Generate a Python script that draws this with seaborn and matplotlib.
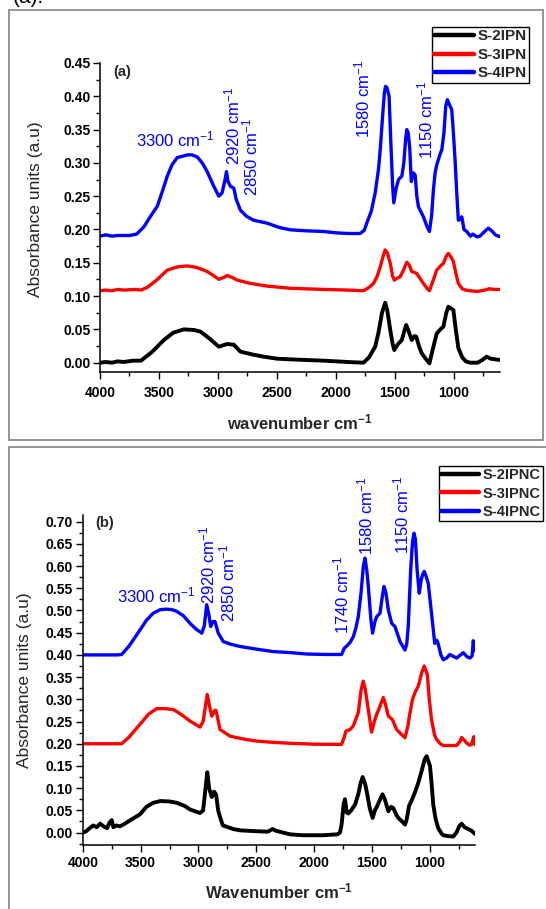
import matplotlib
matplotlib.use("Agg")
import matplotlib.pyplot as plt
import seaborn as sns
import pandas as pd
from matplotlib.patches import Rectangle
from matplotlib.ticker import MultipleLocator

# ---------------- (a) IPN spectra ----------------
a_s2_wn = [4000, 3950, 3900, 3850, 3800, 3720, 3653, 3560, 3459, 3380, 3289, 3200, 3148, 3070,
           2993, 2960, 2922, 2866, 2840, 2810, 2700, 2612, 2500, 2387, 2250, 2105, 2000, 1900,
           1766, 1720, 1668, 1640, 1610, 1583, 1565, 1540, 1520, 1506, 1475, 1442, 1420, 1405,
           1390, 1358, 1335, 1320, 1295, 1273, 1240, 1208, 1180, 1146, 1110, 1090, 1065, 1048,
           1030, 1005, 985, 963, 930, 900, 864, 800, 760, 723, 690, 650, 610]
a_s2_abs = [0.000, 0.001, 0.000, 0.002, 0.001, 0.003, 0.003, 0.016, 0.034, 0.045, 0.050, 0.049,
            0.0466, 0.036, 0.024, 0.026, 0.028, 0.027, 0.022, 0.0166, 0.012, 0.009, 0.006, 0.005,
            0.004, 0.003, 0.002, 0.001, 0.000, 0.008, 0.024, 0.045, 0.075, 0.090, 0.078, 0.049,
            0.028, 0.019, 0.028, 0.034, 0.048, 0.0566, 0.050, 0.034, 0.040, 0.039, 0.024, 0.014,
            0.006, -0.001, 0.020, 0.044, 0.051, 0.054, 0.075, 0.084, 0.082, 0.079, 0.050, 0.022,
            0.008, 0.002, 0.000, 0.000, 0.004, 0.009, 0.006, 0.005, 0.004]

a_s3_wn = [4000, 3950, 3900, 3850, 3800, 3700, 3653, 3600, 3520, 3430, 3340, 3261, 3180, 3092,
           3040, 2993, 2950, 2922, 2880, 2837, 2725, 2584, 2387, 2105, 1900, 1766, 1720, 1682,
           1650, 1625, 1600, 1583, 1565, 1540, 1520, 1506, 1480, 1456, 1425, 1400, 1380, 1358,
           1315, 1290, 1259, 1230, 1208, 1180, 1146, 1110, 1090, 1065, 1048, 1030, 1005, 985,
           963, 930, 900, 864, 800, 740, 700, 660, 610]
a_s3_abs = [0.108, 0.109, 0.108, 0.110, 0.109, 0.110, 0.109, 0.113, 0.124, 0.139, 0.144, 0.1453,
            0.143, 0.137, 0.131, 0.1252, 0.128, 0.131, 0.128, 0.124, 0.119, 0.115, 0.1117, 0.110,
            0.109, 0.108, 0.113, 0.119, 0.130, 0.144, 0.160, 0.1693, 0.165, 0.149, 0.130, 0.124,
            0.127, 0.129, 0.140, 0.1508, 0.147, 0.137, 0.134, 0.127, 0.119, 0.112, 0.108, 0.122,
            0.139, 0.146, 0.149, 0.160, 0.164, 0.160, 0.152, 0.135, 0.119, 0.111, 0.109, 0.108,
            0.107, 0.109, 0.111, 0.110, 0.110]

a_s4_wn = [4000, 3950, 3900, 3850, 3750, 3690, 3628, 3571, 3514, 3470, 3430, 3390, 3345, 3300,
           3261, 3220, 3176, 3130, 3092, 3036, 2993, 2965, 2940, 2928, 2915, 2895, 2866, 2845,
           2810, 2760, 2700, 2584, 2480, 2387, 2250, 2105, 2000, 1900, 1794, 1760, 1738, 1700,
           1668, 1640, 1625, 1605, 1590, 1580, 1568, 1550, 1535, 1520, 1510, 1490, 1470, 1442,
           1425, 1410, 1400, 1388, 1375, 1362, 1345, 1329, 1315, 1301, 1259, 1230, 1208, 1190,
           1174, 1160, 1146, 1120, 1103, 1085, 1070, 1056, 1040, 1019, 1005, 991, 975, 963, 948,
           934, 915, 892, 860, 840, 807, 780, 740, 709, 680, 650, 610]
a_s4_abs = [0.190, 0.192, 0.190, 0.191, 0.191, 0.193, 0.204, 0.220, 0.235, 0.258, 0.280, 0.297,
            0.308, 0.310, 0.312, 0.312, 0.309, 0.299, 0.287, 0.265, 0.250, 0.255, 0.275, 0.287,
            0.272, 0.265, 0.262, 0.245, 0.229, 0.220, 0.214, 0.2095, 0.203, 0.1995, 0.198, 0.197,
            0.195, 0.194, 0.194, 0.199, 0.210, 0.228, 0.255, 0.290, 0.320, 0.370, 0.405, 0.415,
            0.413, 0.400, 0.330, 0.265, 0.240, 0.262, 0.275, 0.280, 0.300, 0.335, 0.350, 0.345,
            0.322, 0.272, 0.285, 0.282, 0.250, 0.234, 0.219, 0.205, 0.197, 0.220, 0.260, 0.285,
            0.297, 0.312, 0.320, 0.345, 0.385, 0.395, 0.388, 0.380, 0.345, 0.305, 0.250, 0.214,
            0.215, 0.219, 0.200, 0.197, 0.190, 0.193, 0.189, 0.190, 0.197, 0.202, 0.198, 0.192,
            0.189]

# ---------------- (b) IPNC spectra ----------------
b_s2_wn = [4000, 3970, 3940, 3910, 3880, 3850, 3820, 3790, 3770, 3750, 3736, 3710, 3680, 3650,
           3600, 3506, 3450, 3391, 3330, 3250, 3188, 3120, 3073, 2987, 2960, 2935, 2924, 2908,
           2885, 2865, 2848, 2830, 2814, 2789, 2700, 2641, 2500, 2400, 2360, 2330, 2209, 2100,
           1921, 1800, 1777, 1763, 1745, 1734, 1718, 1705, 1680, 1647, 1619, 1600, 1581, 1560,
           1541, 1520, 1495, 1475, 1455, 1430, 1409, 1390, 1359, 1335, 1316, 1290, 1273, 1240,
           1215, 1200, 1180, 1158, 1130, 1100, 1070, 1045, 1028, 1015, 999, 985, 971, 950, 928,
           900, 885, 840, 799, 770, 745, 726, 700, 670, 640, 610]
b_s2_abs = [0.000, 0.003, 0.010, 0.016, 0.012, 0.020, 0.014, 0.010, 0.022, 0.028, 0.012, 0.016,
            0.014, 0.018, 0.026, 0.041, 0.058, 0.067, 0.071, 0.070, 0.067, 0.060, 0.052, 0.044,
            0.050, 0.110, 0.136, 0.100, 0.080, 0.092, 0.086, 0.050, 0.035, 0.016, 0.008, 0.005,
            0.003, 0.002, 0.008, 0.004, -0.004, -0.006, -0.006, -0.004, 0.000, 0.018, 0.065,
            0.075, 0.045, 0.043, 0.050, 0.063, 0.086, 0.110, 0.125, 0.110, 0.086, 0.055, 0.033,
            0.050, 0.060, 0.075, 0.086, 0.075, 0.048, 0.058, 0.055, 0.040, 0.033, 0.025, 0.018,
            0.030, 0.060, 0.072, 0.090, 0.112, 0.140, 0.165, 0.172, 0.162, 0.150, 0.110, 0.063,
            0.030, 0.010, -0.002, -0.006, -0.008, -0.009, 0.000, 0.015, 0.020, 0.012, 0.008,
            0.004, -0.003]

b_s3_wn = [4000, 3800, 3664, 3600, 3506, 3430, 3361, 3290, 3217, 3150, 3073, 2987, 2960, 2924,
           2905, 2885, 2860, 2848, 2814, 2727, 2600, 2497, 2350, 2209, 2000, 1763, 1740, 1725,
           1690, 1662, 1619, 1595, 1576, 1560, 1541, 1504, 1480, 1466, 1430, 1403, 1385, 1359,
           1325, 1287, 1250, 1215, 1190, 1172, 1150, 1129, 1100, 1070, 1049, 1022, 1005, 986,
           960, 943, 910, 885, 830, 769, 740, 726, 700, 683, 660, 640, 625, 619, 610]
b_s3_abs = [0.200, 0.200, 0.200, 0.215, 0.2435, 0.267, 0.279, 0.279, 0.277, 0.266, 0.251, 0.2375,
            0.250, 0.311, 0.285, 0.262, 0.275, 0.275, 0.232, 0.217, 0.210, 0.206, 0.203, 0.201,
            0.199, 0.1985, 0.215, 0.2285, 0.232, 0.240, 0.270, 0.320, 0.341, 0.325, 0.292, 0.226,
            0.250, 0.262, 0.285, 0.304, 0.290, 0.262, 0.255, 0.232, 0.222, 0.2135, 0.240, 0.270,
            0.300, 0.315, 0.330, 0.360, 0.375, 0.356, 0.300, 0.255, 0.220, 0.210, 0.200, 0.196,
            0.196, 0.196, 0.205, 0.214, 0.207, 0.202, 0.197, 0.198, 0.212, 0.216, 0.198]

b_s4_wn = [4000, 3900, 3800, 3700, 3664, 3600, 3506, 3450, 3391, 3330, 3275, 3230, 3188, 3130,
           3073, 3020, 2972, 2950, 2929, 2910, 2895, 2875, 2857, 2829, 2786, 2720, 2641, 2500,
           2354, 2200, 2065, 1900, 1763, 1740, 1719, 1690, 1662, 1640, 1619, 1595, 1575, 1561,
           1545, 1532, 1510, 1495, 1475, 1460, 1431, 1412, 1397, 1380, 1359, 1330, 1302, 1258,
           1215, 1200, 1187, 1166, 1150, 1137, 1125, 1110, 1092, 1075, 1060, 1049, 1030, 1014,
           986, 958, 940, 929, 905, 884, 855, 827, 800, 769, 740, 711, 680, 653, 635, 625, 617,
           610]
b_s4_abs = [0.400, 0.400, 0.400, 0.400, 0.401, 0.420, 0.456, 0.478, 0.494, 0.502, 0.503, 0.502,
            0.498, 0.488, 0.471, 0.458, 0.449, 0.465, 0.513, 0.490, 0.464, 0.475, 0.475, 0.449,
            0.430, 0.424, 0.419, 0.413, 0.4075, 0.405, 0.402, 0.401, 0.401, 0.415, 0.420, 0.428,
            0.441, 0.460, 0.486, 0.540, 0.600, 0.618, 0.590, 0.554, 0.480, 0.449, 0.475, 0.486,
            0.494, 0.530, 0.554, 0.540, 0.501, 0.471, 0.464, 0.430, 0.411, 0.425, 0.464, 0.591,
            0.655, 0.674, 0.660, 0.590, 0.539, 0.569, 0.583, 0.588, 0.575, 0.561, 0.494, 0.426,
            0.433, 0.426, 0.400, 0.389, 0.393, 0.401, 0.397, 0.393, 0.399, 0.405, 0.396, 0.393,
            0.398, 0.432, 0.420, 0.409]

names_a = ["S-2IPN", "S-3IPN", "S-4IPN"]
names_b = ["S-2IPNC", "S-3IPNC", "S-4IPNC"]
colors = ["black", "red", "blue"]

x_ticks = [4000, 3500, 3000, 2500, 2000, 1500, 1000]
x_tick_labels = ["4000", "3500", "3000", "2500", "2000", "1500", "1000"]
ya_ticks = [0.00, 0.05, 0.10, 0.15, 0.20, 0.25, 0.30, 0.35, 0.40, 0.45]
yb_ticks = [0.00, 0.05, 0.10, 0.15, 0.20, 0.25, 0.30, 0.35, 0.40, 0.45, 0.50, 0.55, 0.60,
            0.65, 0.70]

peaks_a = ["3300", "2920", "2850", "1580", "1150"]
peaks_b = ["3300", "2920", "2850", "1740", "1580", "1150"]

# ---------------- figure ----------------
sns.set_theme(style="ticks")
plt.rcParams["font.family"] = ["Liberation Sans", "DejaVu Sans"]
plt.rcParams["mathtext.fontset"] = "custom"
plt.rcParams["mathtext.rm"] = "Liberation Sans"
plt.rcParams["mathtext.it"] = "Liberation Sans:italic"
plt.rcParams["mathtext.bf"] = "Liberation Sans:bold"
plt.rcParams["axes.edgecolor"] = "black"
plt.rcParams["xtick.color"] = "black"
plt.rcParams["ytick.color"] = "black"

W, H = 546, 909
fig = plt.figure(figsize=(W / 100, H / 100), dpi=100)


def px_rect(x0, y0, x1, y1):
    """Pixel box (top-left origin) -> figure-fraction rect."""
    return [x0 / W, 1 - y1 / H, (x1 - x0) / W, (y1 - y0) / H]


# grey panel frames
fig.add_artist(Rectangle((9 / W, 1 - 440 / H), 534 / W, 430 / H, transform=fig.transFigure,
                         fill=False, edgecolor="#8c8c8c", lw=1.3))
fig.add_artist(Rectangle((9 / W, 1 - 940 / H), 600 / W, 493 / H, transform=fig.transFigure,
                         fill=False, edgecolor="#8c8c8c", lw=1.3))
fig.text(13 / W, 1 - 3 / H, "(a).", fontsize=15, va="baseline", ha="left", color="black")

ax_a = fig.add_axes(px_rect(100, 63, 500, 372))
ax_b = fig.add_axes(px_rect(82.8, 515, 475, 845))


def draw(ax, series, names):
    for (wn, ab), name, c in zip(series, names, colors):
        df = pd.DataFrame({"wn": wn, "abs": ab})
        sns.lineplot(data=df, x="wn", y="abs", ax=ax, color=c, sort=False, estimator=None,
                     lw=2.8 if c == "black" else 2.4, label=name)


draw(ax_a, [(a_s2_wn, a_s2_abs), (a_s3_wn, a_s3_abs), (a_s4_wn, a_s4_abs)], names_a)
draw(ax_b, [(b_s2_wn, b_s2_abs), (b_s3_wn, b_s3_abs), (b_s4_wn, b_s4_abs)], names_b)


def style(ax, yticks, ylim, xlabel, xpad, lpad):
    ax.set_xlim(4000, 610)
    ax.set_ylim(*ylim)
    sns.despine(ax=ax)
    for s in ("left", "bottom"):
        ax.spines[s].set_linewidth(1.1)
    ax.set_xticks(x_ticks)
    ax.set_xticklabels(x_tick_labels, fontweight="bold", fontsize=10)
    ax.set_yticks(yticks)
    ax.set_yticklabels([f"{v:.2f}" for v in yticks], fontweight="bold", fontsize=10)
    ax.xaxis.set_minor_locator(MultipleLocator(250))
    ax.yaxis.set_minor_locator(MultipleLocator(0.025))
    ax.tick_params(which="major", direction="out", length=5, width=1.0, pad=2)
    ax.tick_params(axis="x", which="major", pad=xpad)
    ax.tick_params(which="minor", direction="out", length=3, width=1.0)
    ax.set_xlabel(xlabel, fontsize=12, fontweight="bold", labelpad=lpad)
    ax.set_ylabel("Absorbance units (a.u)", fontsize=12.5)
    ax.set_facecolor("none")


style(ax_a, ya_ticks, (-0.014, 0.45), r"wavenumber cm$^{\mathbf{-1}}$", 5, 9)
style(ax_b, yb_ticks, (-0.028, 0.715), r"Wavenumber cm$^{\mathbf{-1}}$", 3, 8)

ax_a.yaxis.label.set_va("center")
ax_a.yaxis.set_label_coords((36 - 100) / 400, (372 - 209) / 309)
ax_b.yaxis.label.set_va("center")
ax_b.yaxis.set_label_coords((25 - 82.8) / 392.2, (845 - 680) / 330)

# panel tags
ax_a.text(3816, 0.437, "(a)", fontsize=10.5, fontweight="bold", ha="center", va="center")
ax_b.text(3808, 0.697, "(b)", fontsize=10.5, fontweight="bold", ha="center", va="center")


def peak_label(ax, txt, x, y, rot):
    ax.text(x, y, txt + r" cm$^{\mathregular{-1}}$", color="blue", fontsize=12,
            rotation=rot, ha="center", va="center", clip_on=False)


pos_a = [(3360, 0.335, 0), (2877, 0.3555, 90), (2725, 0.310, 90), (1778, 0.396, 90),
         (1245, 0.365, 90)]
for t, (x, y, r) in zip(peaks_a, pos_a):
    peak_label(ax_a, t, x, y, r)

pos_b = [(3361, 0.533, 0), (2924, 0.603, 90), (2751, 0.562, 90), (1762, 0.535, 90),
         (1561, 0.713, 90), (1244, 0.715, 90)]
for t, (x, y, r) in zip(peaks_b, pos_b):
    peak_label(ax_b, t, x, y, r)


def legend(ax, anchor_px, fs):
    leg = ax.legend(loc="upper left", bbox_to_anchor=(anchor_px[0] / W, 1 - anchor_px[1] / H),
                    bbox_transform=fig.transFigure, frameon=True, fancybox=False,
                    edgecolor="black", framealpha=1, borderaxespad=0, borderpad=0.15,
                    handlelength=2.6, handletextpad=0.25, labelspacing=0.3,
                    prop={"weight": "bold", "size": fs})
    leg.get_frame().set_linewidth(1.0)
    for line in leg.get_lines():
        line.set_linewidth(3.2)
    return leg


legend(ax_a, (432, 27), 11)
legend(ax_b, (439, 466), 10.5)

fig.savefig("out.png", dpi=100)
